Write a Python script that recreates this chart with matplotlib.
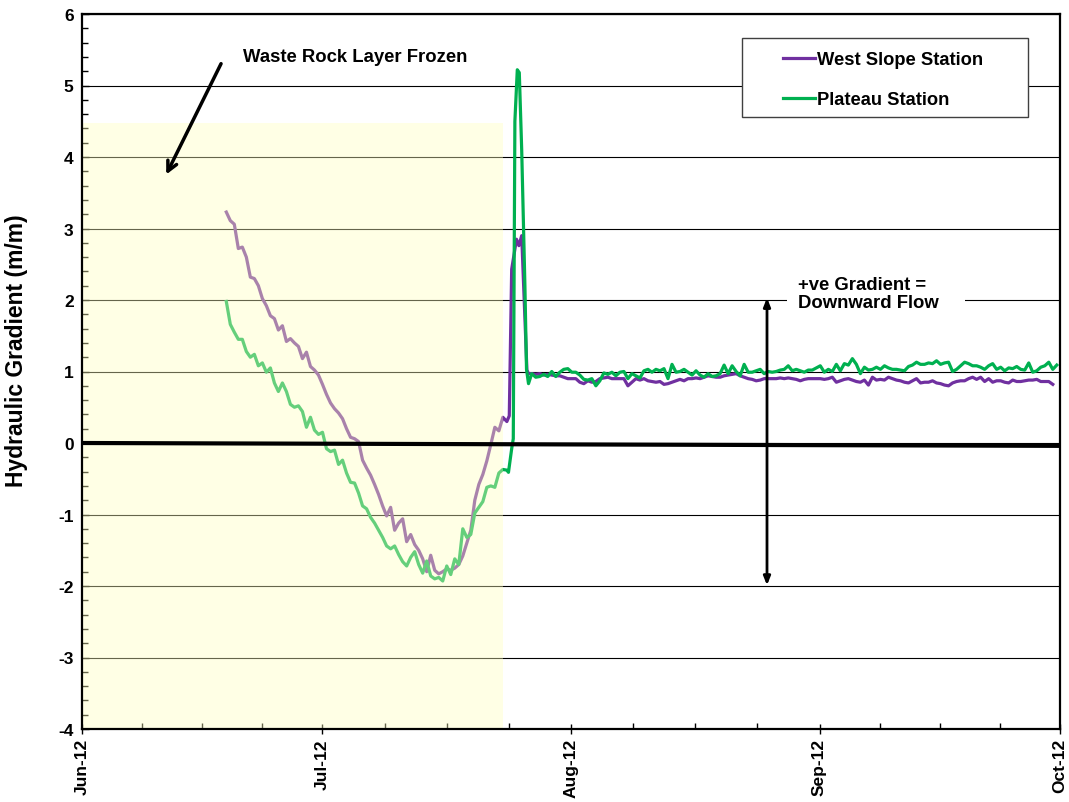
import datetime as dt
import numpy as np
import matplotlib
matplotlib.use("Agg")
import matplotlib.pyplot as plt
import matplotlib.dates as mdates
from matplotlib.patches import Rectangle
from matplotlib.lines import Line2D

plt.rcParams['font.family'] = ['Liberation Sans', 'DejaVu Sans']
plt.rcParams['font.weight'] = 'bold'
plt.rcParams['axes.unicode_minus'] = False

# days counted from 1 Jun 2012, readings every half day
start = dt.datetime(2012, 6, 1)
early_start = 18.0
late_start = 56.1
step = 0.5

# West Slope Station
west_early = [3.23, 3.11, 3.06, 2.72, 2.74, 2.60, 2.32, 2.30, 2.20, 2.02, 1.92, 1.78, 1.74, 1.58, 1.64,
              1.42, 1.46, 1.40, 1.35, 1.18, 1.27, 1.07, 1.02, 0.95, 0.82, 0.68, 0.56, 0.48, 0.42, 0.34,
              0.20, 0.08, 0.06, 0.02, -0.24, -0.35, -0.45, -0.58, -0.72, -0.88, -1.02, -0.90, -1.22,
              -1.12, -1.06, -1.38, -1.28, -1.42, -1.50, -1.62, -1.80, -1.57, -1.78, -1.83, -1.80, -1.76,
              -1.78, -1.75, -1.70, -1.58, -1.40, -1.22, -0.80, -0.58, -0.44, -0.25, -0.02, 0.22, 0.17,
              0.36, 0.30]
west_spike_day = [53.3, 53.6, 54.2, 54.5, 54.85, 55.5, 55.7]
west_spike = [0.38, 2.43, 2.85, 2.76, 2.90, 1.02, 0.97]
west_late = [0.97, 0.96, 0.97, 0.95, 0.96, 0.95, 0.94,
             0.94, 0.92, 0.90, 0.90, 0.90, 0.85, 0.83, 0.87, 0.85, 0.86, 0.90, 0.91, 0.92, 0.90, 0.90,
             0.90, 0.90, 0.80, 0.85, 0.90, 0.88, 0.90, 0.87, 0.86, 0.85, 0.86, 0.82, 0.83, 0.85, 0.87,
             0.89, 0.87, 0.90, 0.90, 0.91, 0.90, 0.92, 0.94, 0.93, 0.92, 0.92, 0.94, 0.95, 0.96, 0.97,
             0.94, 0.92, 0.90, 0.89, 0.87, 0.88, 0.90, 0.90, 0.90, 0.90, 0.91, 0.90, 0.91, 0.90, 0.89,
             0.87, 0.89, 0.90, 0.90, 0.90, 0.90, 0.89, 0.90, 0.92, 0.85, 0.87, 0.89, 0.90, 0.88, 0.86,
             0.85, 0.88, 0.81, 0.92, 0.88, 0.89, 0.88, 0.92, 0.90, 0.88, 0.87, 0.85, 0.84, 0.87, 0.90,
             0.84, 0.85, 0.85, 0.87, 0.84, 0.83, 0.81, 0.80, 0.84, 0.86, 0.87, 0.87, 0.90, 0.92, 0.89,
             0.92, 0.86, 0.90, 0.85, 0.87, 0.87, 0.85, 0.84, 0.88, 0.86, 0.86, 0.87, 0.88, 0.88, 0.89,
             0.86, 0.86, 0.86, 0.82]

# Plateau Station
plat_early = [1.98, 1.66, 1.55, 1.45, 1.45, 1.28, 1.20, 1.24, 1.08, 1.12, 0.99, 1.05, 0.84, 0.72, 0.84,
              0.72, 0.54, 0.50, 0.52, 0.44, 0.22, 0.36, 0.18, 0.12, 0.15, -0.08, -0.12, -0.10, -0.30,
              -0.24, -0.42, -0.55, -0.56, -0.70, -0.88, -0.92, -1.04, -1.12, -1.22, -1.32, -1.44, -1.48,
              -1.44, -1.56, -1.66, -1.72, -1.60, -1.52, -1.70, -1.82, -1.65, -1.86, -1.90, -1.88, -1.93,
              -1.72, -1.84, -1.62, -1.70, -1.20, -1.32, -1.28, -0.98, -0.90, -0.82, -0.62, -0.60, -0.62,
              -0.42, -0.37, -0.38]
plat_spike_day = [53.2, 53.6, 53.8, 54.0, 54.3, 54.55, 54.85, 55.25, 55.45, 55.7]
plat_spike = [-0.41, -0.08, 0.06, 4.50, 5.22, 5.18, 4.10, 2.20, 1.03, 0.83]
plat_late = [0.97, 0.92, 0.93, 0.96, 0.93, 1.00, 0.93,
             0.99, 1.03, 1.04, 0.99, 0.99, 0.95, 0.89, 0.88, 0.90, 0.80, 0.87, 0.98, 0.96, 0.99, 0.94,
             0.99, 1.00, 0.90, 0.97, 0.94, 0.91, 1.01, 1.03, 0.99, 1.03, 1.01, 1.04, 0.90, 1.10, 0.99,
             1.00, 1.03, 0.99, 0.95, 1.01, 0.95, 0.92, 0.97, 0.93, 0.94, 0.97, 1.09, 0.97, 1.08, 1.00,
             0.94, 1.10, 0.99, 0.99, 1.01, 1.03, 0.97, 1.00, 0.99, 1.00, 1.02, 1.03, 1.08, 1.01, 1.03,
             1.01, 0.99, 1.02, 1.02, 1.05, 1.08, 0.99, 1.03, 1.00, 1.10, 1.01, 1.11, 1.09, 1.18, 1.10,
             0.97, 1.06, 1.02, 1.03, 1.06, 1.03, 1.08, 1.05, 1.03, 1.03, 1.02, 1.01, 1.07, 1.09, 1.13,
             1.10, 1.10, 1.12, 1.11, 1.15, 1.10, 1.12, 1.13, 1.00, 1.03, 1.08, 1.13, 1.11, 1.08, 1.08,
             1.06, 1.03, 1.08, 1.11, 1.03, 1.06, 1.01, 1.05, 1.04, 1.07, 1.03, 1.02, 1.12, 0.99, 1.01,
             1.06, 1.08, 1.13, 1.03, 1.09]

frozen_end = 52.5
frozen_top = 4.47
series_names = ['West Slope Station', 'Plateau Station']
purple = '#7030A0'
green = '#00B050'


def build(early, spike_day, spike, late):
    d = np.concatenate([early_start + step * np.arange(len(early)), spike_day,
                        late_start + step * np.arange(len(late))])
    v = np.concatenate([early, spike, late])
    return mdates.date2num(start) + d, v


t0 = mdates.date2num(start)
fig = plt.figure(figsize=(10.69, 8.03), dpi=100)
ax = fig.add_axes([82 / 1069, 73 / 803, 978 / 1069, 715 / 803])

wx, wy = build(west_early, west_spike_day, west_spike, west_late)
px, py = build(plat_early, plat_spike_day, plat_spike, plat_late)
ax.plot(wx, wy, color=purple, lw=2.3, zorder=3)
ax.plot(px, py, color=green, lw=2.3, zorder=3)

# frozen period shading (semi transparent, on top of the lines)
ax.add_patch(Rectangle((t0, -4), frozen_end, frozen_top + 4, facecolor='#FFFFBE',
                       edgecolor='none', alpha=0.4, zorder=4))

ax.plot([t0, t0 + 122], [0, -0.04], color='black', lw=3, zorder=5, solid_capstyle='butt')

ax.set_xlim(t0, mdates.date2num(dt.datetime(2012, 10, 1)))
ax.set_ylim(-4, 6)
ax.set_yticks(range(-4, 7))
ax.yaxis.set_minor_locator(matplotlib.ticker.MultipleLocator(0.2))
months = [dt.datetime(2012, m, 1) for m in range(6, 11)]
ax.set_xticks(mdates.date2num(months))
minor = []
for a, b in zip(months[:-1], months[1:]):
    ma, mb = mdates.date2num(a), mdates.date2num(b)
    minor += [ma + (mb - ma) * k / 4 for k in (1, 2, 3)]
ax.set_xticks(minor, minor=True)
ax.xaxis.set_major_formatter(mdates.DateFormatter('%b-%y'))
ax.grid(axis='y', which='major', color='black', lw=0.8, zorder=1)
ax.set_axisbelow(True)

ax.tick_params(axis='x', which='major', direction='inout', length=7, width=1, labelsize=12.5,
               labelrotation=90, pad=3)
ax.tick_params(axis='x', which='minor', direction='in', length=4, width=1)
ax.tick_params(axis='y', which='major', direction='in', length=5, width=1, labelsize=12.5, pad=6)
ax.tick_params(axis='y', which='minor', direction='in', length=4, width=1)
for lab in ax.get_xticklabels() + ax.get_yticklabels():
    lab.set_fontweight('bold')
for s in ax.spines.values():
    s.set_linewidth(1.6)
    s.set_zorder(6)

ax.set_ylabel('Hydraulic Gradient (m/m)', fontsize=16.5, fontweight='bold')
ax.yaxis.set_label_coords(-0.055, 0.53)

# legend box
ax.add_patch(Rectangle((0.675, 0.856), 0.292, 0.11, transform=ax.transAxes, facecolor='white',
                       edgecolor='#404040', lw=1.0, zorder=7))
handles = [Line2D([], [], color=purple, lw=2.3), Line2D([], [], color=green, lw=2.3)]
leg = ax.legend(handles, series_names, loc='upper left', bbox_to_anchor=(0.717, 0.948),
                frameon=False, borderpad=0, borderaxespad=0, handlelength=1.75,
                handletextpad=0.1, labelspacing=1.26, prop={'size': 13.2, 'weight': 'bold'})
leg.set_zorder(8)

ax.annotate('', xy=(t0 + 10.35, 3.72), xytext=(t0 + 17.5, 5.34),
            arrowprops=dict(arrowstyle='->,head_length=0.7,head_width=0.35', lw=2.5, color='black'),
            zorder=8)
ax.text(t0 + 20.1, 5.41, 'Waste Rock Layer Frozen', fontsize=13.3, fontweight='bold',
        ha='left', va='center', zorder=8)

ax.annotate('', xy=(t0 + 85.45, 2.03), xytext=(t0 + 85.45, -1.99),
            arrowprops=dict(arrowstyle='<|-|>,head_length=0.5,head_width=0.2', lw=2, color='black',
                            shrinkA=0, shrinkB=0), zorder=8)
# white gap in the gridline behind the note
ax.add_patch(Rectangle((t0 + 87.95, 1.9), 22.2, 0.2, facecolor='white', edgecolor='none', zorder=2))
ax.text(t0 + 89.3, 2.09, '+ve Gradient =\nDownward Flow', fontsize=13.3, fontweight='bold',
        ha='left', va='center', linespacing=1.05, zorder=8)

fig.savefig('out.png', dpi=100)
